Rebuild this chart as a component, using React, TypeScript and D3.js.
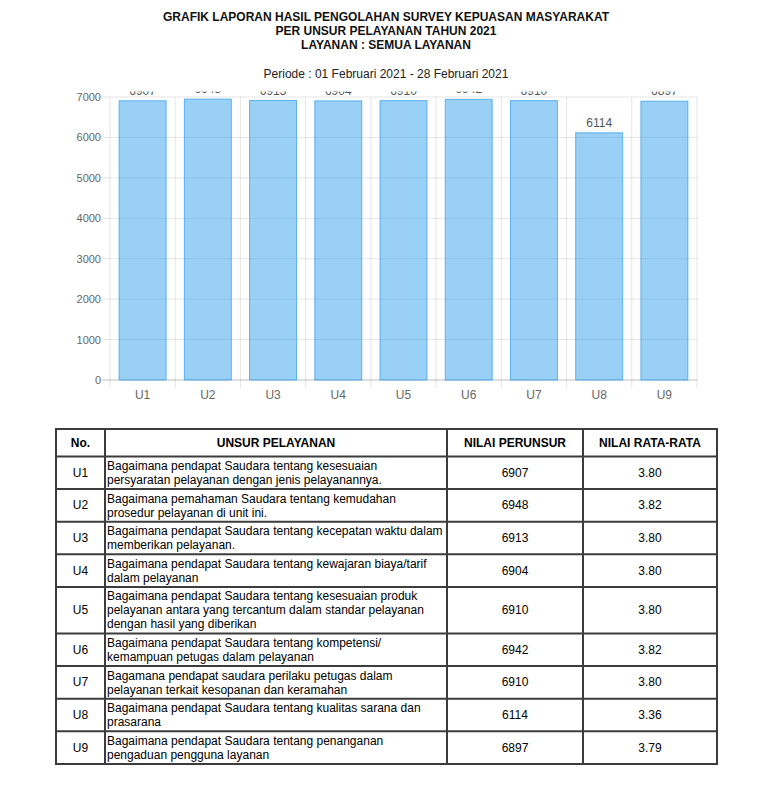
import React from "react";
import * as d3 from "d3";

const titleLines = [
  "GRAFIK LAPORAN HASIL PENGOLAHAN SURVEY KEPUASAN MASYARAKAT",
  "PER UNSUR PELAYANAN TAHUN 2021",
  "LAYANAN : SEMUA LAYANAN",
];
const periodText = "Periode : 01 Februari 2021 - 28 Februari 2021";

const categories = ["U1", "U2", "U3", "U4", "U5", "U6", "U7", "U8", "U9"];
const values = [6907, 6948, 6913, 6904, 6910, 6942, 6910, 6114, 6897];
const averages = ["3.80", "3.82", "3.80", "3.80", "3.80", "3.82", "3.80", "3.36", "3.79"];
const yTicks = [0, 1000, 2000, 3000, 4000, 5000, 6000, 7000];
const headers = ["No.", "UNSUR PELAYANAN", "NILAI PERUNSUR", "NILAI RATA-RATA"];
const descriptions = [
  ["Bagaimana pendapat Saudara tentang kesesuaian", "persyaratan pelayanan dengan jenis pelayanannya."],
  ["Bagaimana pemahaman Saudara tentang kemudahan", "prosedur pelayanan di unit ini."],
  ["Bagaimana pendapat Saudara tentang kecepatan waktu dalam", "memberikan pelayanan."],
  ["Bagaimana pendapat Saudara tentang kewajaran biaya/tarif", "dalam pelayanan"],
  ["Bagaimana pendapat Saudara tentang kesesuaian produk", "pelayanan antara yang tercantum dalam standar pelayanan", "dengan hasil yang diberikan"],
  ["Bagaimana pendapat Saudara tentang kompetensi/", "kemampuan petugas dalam pelayanan"],
  ["Bagamana pendapat saudara perilaku petugas dalam", "pelayanan terkait kesopanan dan keramahan"],
  ["Bagaimana pendapat Saudara tentang kualitas sarana dan", "prasarana"],
  ["Bagaimana pendapat Saudara tentang penanganan", "pengaduan pengguna layanan"],
];

const FONT = "'Liberation Sans', Arial, Helvetica, sans-serif";

export default function App() {
  const W = 759, H = 801;
  const cx = 386;
  const plotL = 110, plotR = 697, plotT = 97, plotB = 380;
  const x = d3.scaleBand<string>().domain(categories).range([plotL, plotR]).paddingInner(0.28).paddingOuter(0.14);
  const step = x.step();
  const y = d3.scaleLinear().domain([0, 7000]).range([plotB, plotT]);
  const grid = "rgba(0,0,0,0.1)";

  const colX = [56, 105, 447, 583, 717];
  const tTop = 429, headH = 27.5, lineH = 14, pad = 4.6;
  const rowTops: number[] = [];
  let acc = tTop + headH;
  descriptions.forEach((d) => {
    rowTops.push(acc);
    acc += d.length * lineH + pad;
  });
  const tBottom = acc;
  const border = "#3c3c3c";

  return (
    <svg width={W} height={H} style={{ position: "absolute", left: 0, top: 0, background: "#fff" }} fontFamily={FONT}>
      <defs>
        <clipPath id="chartClip">
          <rect x={0} y={91.5} width={W} height={330} />
        </clipPath>
      </defs>
      {titleLines.map((t, i) => (
        <text key={i} x={cx} y={21 + i * 14} textAnchor="middle" fontSize={12} fontWeight="bold" fill="#111">{t}</text>
      ))}
      <text x={cx} y={78} textAnchor="middle" fontSize={12} fill="#222">{periodText}</text>

      <g clipPath="url(#chartClip)">
        {yTicks.map((t) => (
          <line key={"h" + t} x1={plotL - 8} x2={plotR} y1={y(t)} y2={y(t)}
            stroke={t === 0 ? "rgba(0,0,0,0.25)" : grid} strokeWidth={1} />
        ))}
        {d3.range(categories.length + 1).map((i) => (
          <line key={"v" + i} x1={plotL + i * step} x2={plotL + i * step} y1={plotT} y2={plotB + 8}
            stroke={grid} strokeWidth={1} />
        ))}
        {yTicks.map((t) => (
          <text key={"yl" + t} x={101} y={y(t) + 4} textAnchor="end" fontSize={11} fill="#666">{t}</text>
        ))}
        {categories.map((c, i) => (
          <g key={c}>
            <rect x={x(c)!} y={y(values[i])} width={x.bandwidth()} height={plotB - y(values[i])}
              fill="rgba(54,162,235,0.5)" stroke="rgba(54,162,235,0.75)" strokeWidth={1} />
            <text x={x(c)! + x.bandwidth() / 2} y={y(values[i]) - 6} textAnchor="middle" fontSize={12} fill="#555">{values[i]}</text>
            <text x={x(c)! + x.bandwidth() / 2} y={398.5} textAnchor="middle" fontSize={12} fill="#666">{c}</text>
          </g>
        ))}
      </g>

      <g>
        {headers.map((h, i) => (
          <text key={h} x={(colX[i] + colX[i + 1]) / 2} y={tTop + headH / 2 + 4} textAnchor="middle"
            fontSize={12} fontWeight="bold" fill="#000">{h}</text>
        ))}
        {categories.map((c, i) => {
          const top = rowTops[i];
          const h = descriptions[i].length * lineH + pad;
          const mid = top + h / 2 + 4;
          return (
            <g key={"r" + c}>
              <text x={(colX[0] + colX[1]) / 2} y={mid} textAnchor="middle" fontSize={12} fill="#000">{c}</text>
              {descriptions[i].map((l, j) => (
                <text key={j} x={107} y={top + 13.5 + j * lineH} fontSize={12} fill="#000">{l}</text>
              ))}
              <text x={(colX[2] + colX[3]) / 2} y={mid} textAnchor="middle" fontSize={12} fill="#000">{values[i]}</text>
              <text x={(colX[3] + colX[4]) / 2} y={mid} textAnchor="middle" fontSize={12} fill="#000">{averages[i]}</text>
            </g>
          );
        })}
        {[tTop, tTop + headH, ...rowTops.slice(1), tBottom].map((yy, i) => (
          <line key={"tl" + i} x1={colX[0]} x2={colX[4]} y1={yy} y2={yy} stroke={border} strokeWidth={2} />
        ))}
        {colX.map((xx, i) => (
          <line key={"tc" + i} x1={xx} x2={xx} y1={tTop - 1} y2={tBottom + 1} stroke={border} strokeWidth={2} />
        ))}
      </g>
    </svg>
  );
}
